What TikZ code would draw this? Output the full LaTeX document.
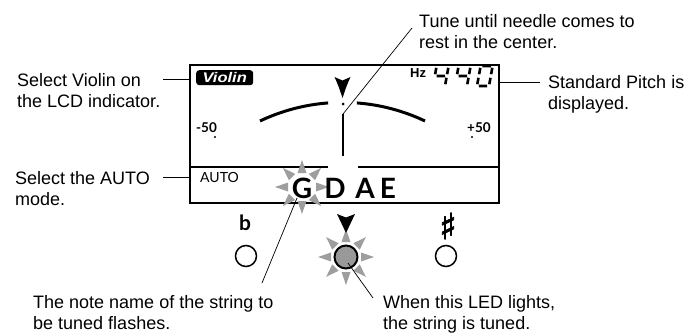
\documentclass[tikz,border=0pt]{standalone}
\usepackage{fontspec}
\setmainfont{Liberation Sans}
\newfontfamily\lato{Lato}
\newfontfamily\djv[FakeBold=2]{DejaVu Sans}
\definecolor{raygray}{gray}{0.62}
\definecolor{ledgray}{gray}{0.6}
\begin{document}
\begin{tikzpicture}[x=1pt,y=-1pt,
  lead/.style={line width=0.7pt},
  lbl/.style={anchor=base west,inner sep=0pt,font=\fontsize{18}{21}\selectfont,align=left},
  seg/.style={line width=2.6pt,line cap=butt},
  raytri/.style={fill=raygray,draw=none},
  btn/.style={circle,draw,line width=1.5pt,minimum size=21pt,inner sep=0pt},
  big/.style={anchor=base,inner sep=0pt,font=\lato\bfseries\fontsize{28}{28}\selectfont},
  scalelbl/.style={anchor=base west,inner sep=0pt,font=\lato\bfseries\fontsize{13.5}{13.5}\selectfont},
]
\useasboundingbox (0,0) rectangle (690,335);

% LCD frame
\node[draw,line width=2.2pt,minimum width=309pt,minimum height=138pt,inner sep=0pt,anchor=north west] (lcd) at (189,64) {};
\draw[line width=1.2pt] (lcd.west |- 0,167) -- (328,167);
\draw[line width=1.2pt] (358,167) -- (lcd.east |- 0,167);

% Violin badge
\node[fill=black,rounded corners=3pt,minimum width=57pt,minimum height=15pt,inner sep=0pt,anchor=north west,
      text=white,font=\bfseries\itshape\fontsize{14}{14}\selectfont] (badge) at (196,70) {\scalebox{1.18}[1]{Violin}};

% scale arcs
\draw[line width=3pt] (260,121) arc[start angle=-115.4,end angle=-94.3,radius=192.5];
\draw[line width=3pt] (425,121) arc[start angle=-64.6,end angle=-85.7,radius=192.5];

% pointer, dot, needle
\fill (334.5,77) -- (342.5,80.5) -- (350.5,77) .. controls (346.5,86) .. (342.5,98) .. controls (338.5,86) .. cycle;
\fill (343,104) circle[radius=1.5];
\coordinate (ntop) at (343,114);
\coordinate (nbot) at (343,156);
\draw[line width=1.2pt] (ntop) -- (nbot);

% -50 / +50
\node[scalelbl] (m50) at (196,132) {-50};
\node[scalelbl] (p50) at (467,132) {+50};
\fill (215,137) circle[radius=1.2];
\fill (472,137) circle[radius=1.2];

% Hz 440
\node[anchor=base west,inner sep=0pt,font=\bfseries\fontsize{13}{13}\selectfont] (hz) at (410,77) {Hz};
\begin{scope}[shift={(433,86)},xslant=0.18]
  \draw[seg] (0,-18.2)--(0,-11.8) (1.8,-10)--(10.2,-10) (12,-18.2)--(12,-11.8) (12,-8.2)--(12,-1.8);
\end{scope}
\begin{scope}[shift={(455,86)},xslant=0.18]
  \draw[seg] (0,-18.2)--(0,-11.8) (1.8,-10)--(10.2,-10) (12,-18.2)--(12,-11.8) (12,-8.2)--(12,-1.8);
\end{scope}
\begin{scope}[shift={(477,86)},xslant=0.18]
  \draw[seg] (1.8,-20)--(10.2,-20) (12,-18.2)--(12,-11.8) (12,-8.2)--(12,-1.8)
             (1.8,0)--(10.2,0) (0,-8.2)--(0,-1.8) (0,-18.2)--(0,-11.8);
\end{scope}

% AUTO
\node[anchor=base west,inner sep=0pt,font=\lato\fontsize{14}{14}\selectfont] (auto) at (200,182) {AUTO};

% flashing rays around G
\foreach \a in {0,45,...,315}{
  \begin{scope}[shift={(302,187)},rotate=\a]
    \fill[raytri] (14,-4.5) -- (27,0) -- (14,4.5) -- cycle;
  \end{scope}}
\node[big] (g) at (302,198) {G};
\node[big] (d) at (335,198) {D};
\node[big] (a) at (365,198) {A};
\node[big] (e) at (388,198) {E};

% buttons
\node[anchor=base,inner sep=0pt,font=\lato\bfseries\fontsize{21}{21}\selectfont] (flat) at (245,230) {b};
\node[btn] (bl) at (246,256) {};
\node[anchor=center,inner sep=0pt,font=\djv\fontsize{36}{36}\selectfont] (sharp) at (448,226) {♯};
\node[btn] (br) at (446,256) {};

% LED with rays and pointer
\foreach \a in {0,45,...,315}{
  \begin{scope}[shift={(346,257)},rotate=\a]
    \fill[raytri] (15,-4.5) -- (28,0) -- (15,4.5) -- cycle;
  \end{scope}}
\node[circle,draw,line width=2pt,fill=ledgray,minimum size=23pt,inner sep=0pt] (led) at (346,257) {};
\fill (337,214) -- (346,217.5) -- (355,214) .. controls (350.5,223) .. (346,233) .. controls (341.5,223) .. cycle;

% labels (base anchor = baseline of the last line)
\node[lbl] (violintxt) at (17,107) {Select Violin on\\the LCD indicator.};
\node[lbl] (autotxt) at (15,205) {Select the AUTO\\mode.};
\node[lbl] (tunetxt) at (419,48) {Tune until needle comes to\\rest in the center.};
\node[lbl] (pitchtxt) at (548,109) {Standard Pitch is\\displayed.};
\node[lbl] (notetxt) at (33,329) {The note name of the string to\\be tuned flashes.};
\node[lbl] (ledtxt) at (383,329) {When this LED lights,\\the string is tuned.};

% leaders
\coordinate (vl) at (163,79);
\draw[lead] (vl) -- (lcd.west |- vl);
\coordinate (al) at (163,177);
\draw[lead] (al) -- (lcd.west |- al);
\coordinate (pl) at (540,82);
\draw[lead] (lcd.east |- pl) -- (pl);
\coordinate (tl) at (412,28);
\draw[lead] (tl) -- (ntop);
\coordinate (gend) at (262,283);
\draw[lead] ([xshift=-5pt]g.base) -- (gend);
\coordinate (lend) at (373,298);
\draw[lead] ([shift={(2,6)}]led.center) -- (lend);
\end{tikzpicture}
\end{document}
